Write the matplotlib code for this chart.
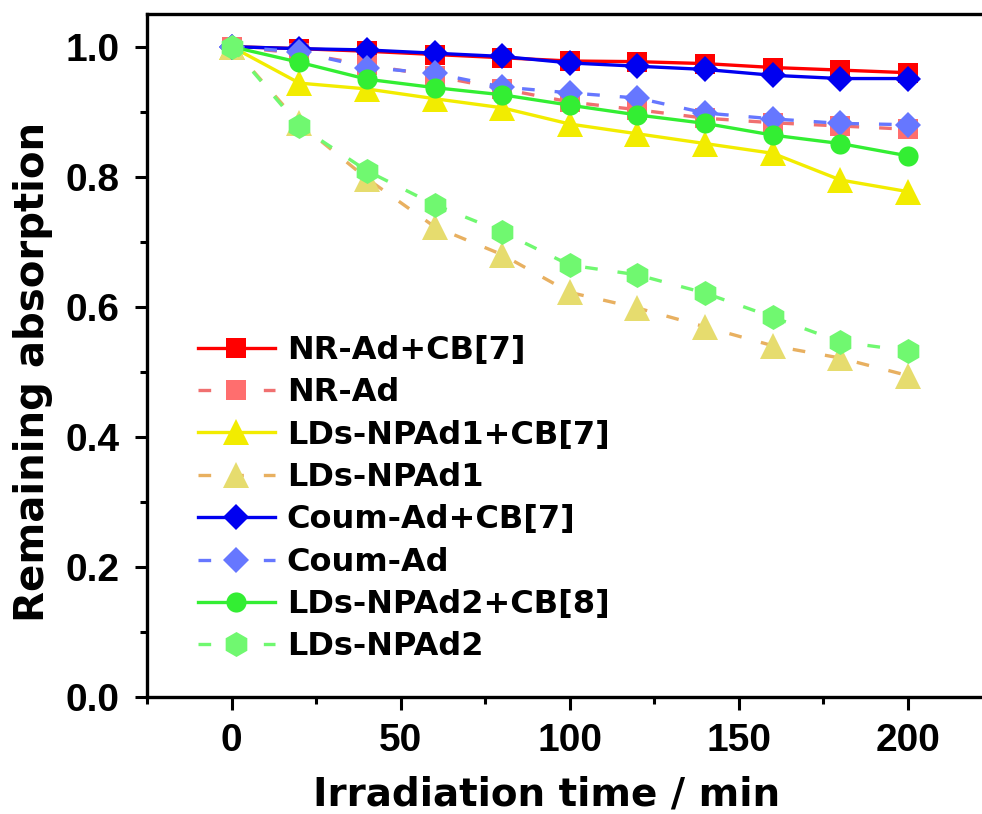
import matplotlib
matplotlib.use("Agg")
import matplotlib.pyplot as plt
from matplotlib.ticker import MultipleLocator

# ---- data ----
time_min = [0, 20, 40, 60, 80, 100, 120, 140, 160, 180, 200]
nr_ad_cb7 = [1.000, 0.997, 0.993, 0.988, 0.983, 0.978, 0.977, 0.974, 0.968, 0.964, 0.960]
nr_ad = [1.000, 0.990, 0.972, 0.955, 0.935, 0.915, 0.903, 0.890, 0.883, 0.878, 0.873]
lds_npad1_cb7 = [1.000, 0.944, 0.935, 0.920, 0.906, 0.881, 0.866, 0.851, 0.836, 0.795, 0.777]
lds_npad1 = [1.000, 0.882, 0.797, 0.723, 0.680, 0.622, 0.598, 0.569, 0.540, 0.521, 0.494]
coum_ad_cb7 = [1.000, 0.997, 0.995, 0.990, 0.985, 0.975, 0.970, 0.965, 0.956, 0.951, 0.951]
coum_ad = [1.000, 0.992, 0.968, 0.959, 0.938, 0.929, 0.921, 0.898, 0.889, 0.882, 0.880]
lds_npad2_cb8 = [1.000, 0.976, 0.950, 0.937, 0.926, 0.910, 0.895, 0.882, 0.864, 0.851, 0.832]
lds_npad2 = [1.000, 0.878, 0.809, 0.757, 0.715, 0.664, 0.649, 0.621, 0.584, 0.546, 0.532]

labels = ["NR-Ad+CB[7]", "NR-Ad", "LDs-NPAd1+CB[7]", "LDs-NPAd1",
          "Coum-Ad+CB[7]", "Coum-Ad", "LDs-NPAd2+CB[8]", "LDs-NPAd2"]
x_ticks = [0, 50, 100, 150, 200]
y_ticks = [0.0, 0.2, 0.4, 0.6, 0.8, 1.0]

series = [nr_ad_cb7, nr_ad, lds_npad1_cb7, lds_npad1,
          coum_ad_cb7, coum_ad, lds_npad2_cb8, lds_npad2]

styles = [
    dict(color="#FF0000", mfc="#FF0000", marker="s", ms=14, ls="-"),
    dict(color="#F07070", mfc="#FF6E6E", marker="s", ms=14, ls="--"),
    dict(color="#F2EC00", mfc="#F2EC00", marker="^", ms=19, ls="-"),
    dict(color="#E8B060", mfc="#E6DC6E", marker="^", ms=19, ls="--"),
    dict(color="#0000F0", mfc="#0000F0", marker="D", ms=13, ls="-"),
    dict(color="#6677FF", mfc="#6677FF", marker="D", ms=13, ls="--"),
    dict(color="#33EE33", mfc="#33EE33", marker="o", ms=14.5, ls="-"),
    dict(color="#70F870", mfc="#70F870", marker="h", ms=18, ls="--"),
]

fig = plt.figure(figsize=(9.82, 8.14), dpi=100)
W, H = 982, 814
ax = fig.add_axes([147.2 / W, 117.3 / H, (992.5 - 147.2) / W, (696.7 - 14.2) / H])

for vals, lab, st in zip(series, labels, styles):
    kw = dict(color=st["color"], marker=st["marker"], markersize=st["ms"],
              markerfacecolor=st["mfc"], markeredgewidth=0, linewidth=2.4,
              linestyle=st["ls"], label=lab)
    line, = ax.plot(time_min, vals, **kw)
    if st["ls"] == "--":
        line.set_dashes((3.8, 6))

ax.set_xlim(-25, 225)
ax.set_ylim(0, 1.05)
ax.set_xticks(x_ticks)
ax.set_yticks(y_ticks)
ax.set_yticklabels([f"{v:.1f}" for v in y_ticks])
ax.xaxis.set_minor_locator(MultipleLocator(25))
ax.yaxis.set_minor_locator(MultipleLocator(0.1))

for s in ax.spines.values():
    s.set_linewidth(2.4)
ax.spines["right"].set_visible(False)

ax.tick_params(which="major", direction="out", length=9, width=2.2,
               labelsize=28, top=False, right=False)
ax.tick_params(which="minor", direction="out", length=5, width=2.2,
               top=False, right=False)
ax.tick_params(axis="x", which="major", pad=10)
ax.tick_params(axis="y", which="major", pad=11)
for lbl in ax.get_xticklabels() + ax.get_yticklabels():
    lbl.set_fontfamily("Liberation Sans")
    lbl.set_fontweight("bold")

ax.set_xlabel("Irradiation time / min", fontsize=28, fontweight="bold",
              family="DejaVu Sans")
ax.set_ylabel("Remaining absorption", fontsize=29, fontweight="bold",
              family="DejaVu Sans")
ax.xaxis.set_label_coords(0.472, -0.115)
ax.yaxis.set_label_coords(-0.112, 0.4765)

leg = ax.legend(loc="upper left", bbox_to_anchor=(198 / W, 1 - 335 / H),
                bbox_transform=fig.transFigure, frameon=False,
                prop=dict(family="DejaVu Sans", weight="bold", size=23),
                handlelength=2.4, handletextpad=0.38, labelspacing=0.355,
                borderpad=0, borderaxespad=0, numpoints=1)

fig.savefig("out.png", dpi=100)
